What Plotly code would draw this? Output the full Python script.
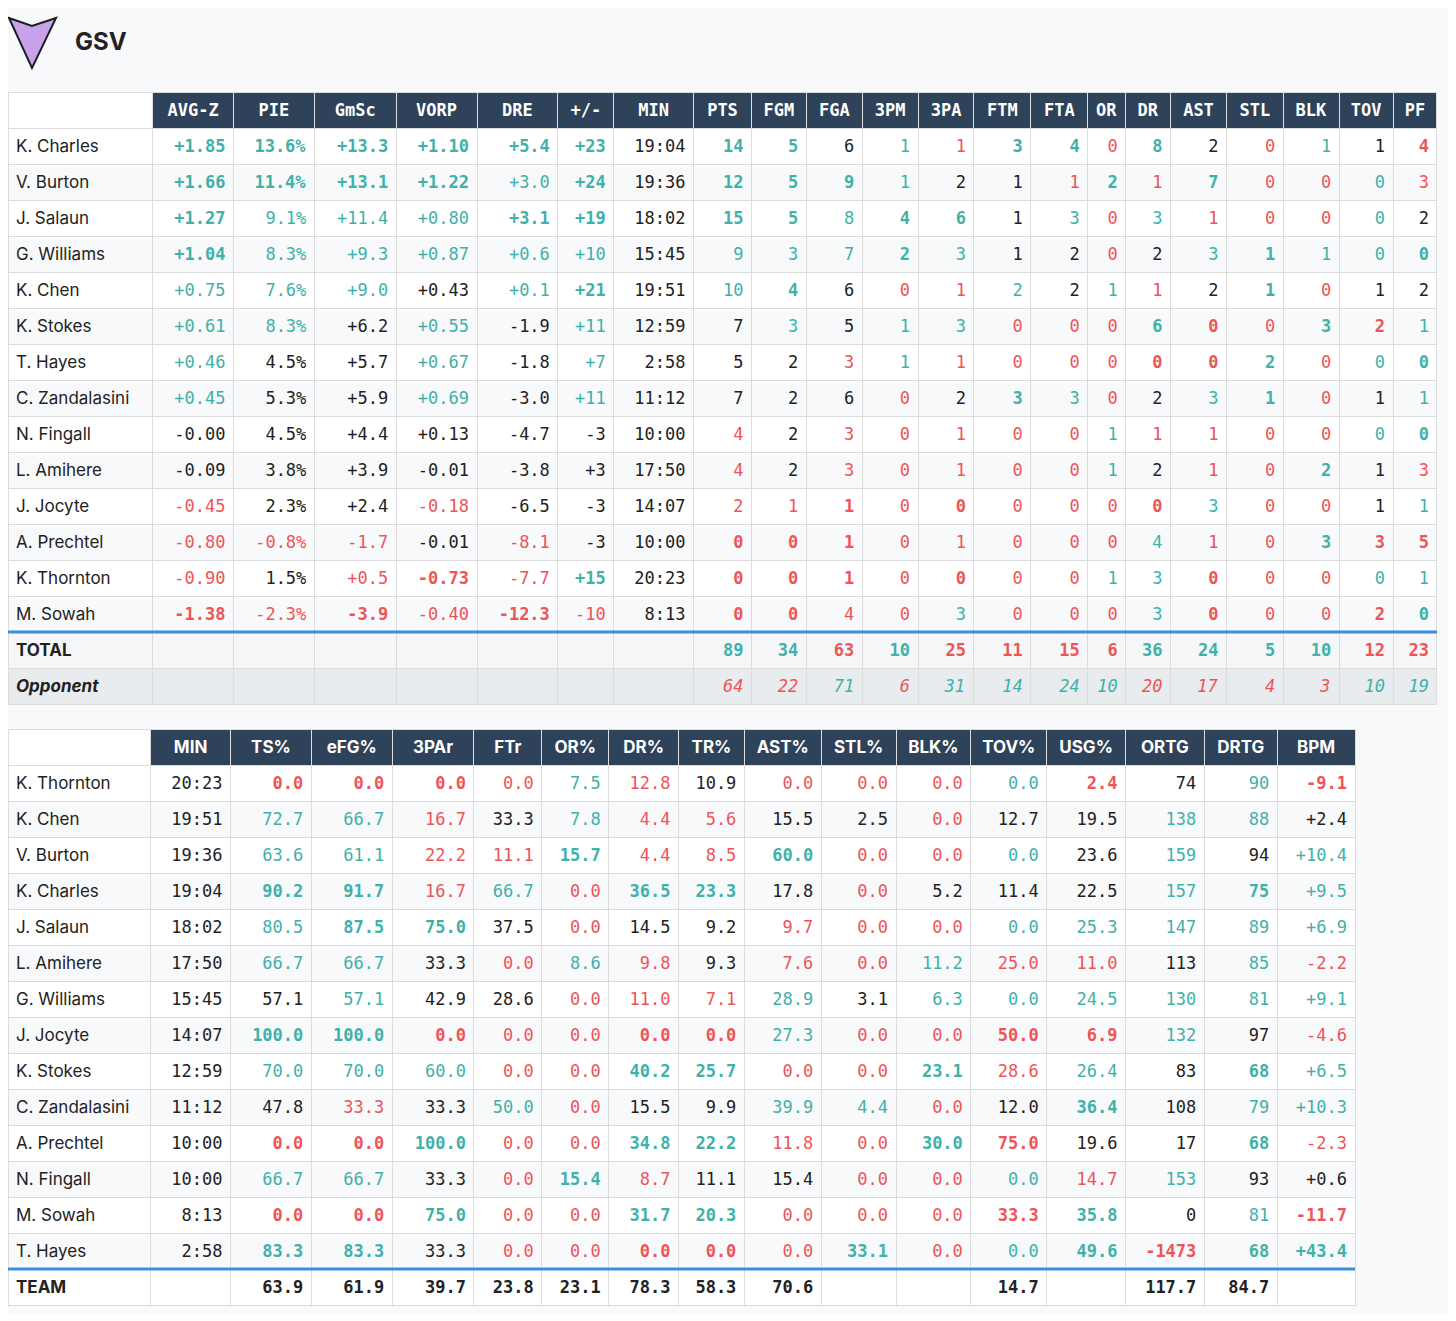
import plotly.graph_objects as go

TEAM_NAME = "GSV"
box_cols = ["AVG-Z","PIE","GmSc","VORP","DRE","+/-","MIN","PTS","FGM","FGA","3PM","3PA","FTM","FTA","OR","DR","AST","STL","BLK","TOV","PF"]
box_players = ["K. Charles","V. Burton","J. Salaun","G. Williams","K. Chen","K. Stokes","T. Hayes","C. Zandalasini","N. Fingall","L. Amihere","J. Jocyte","A. Prechtel","K. Thornton","M. Sowah"]
# value/style  (G bold good, g good, n neutral, r bad, R bold bad)
box_rows = [
 "+1.85/G 13.6%/G +13.3/G +1.10/G +5.4/G +23/G 19:04/n 14/G 5/G 6/n 1/g 1/r 3/G 4/G 0/r 8/G 2/n 0/r 1/g 1/n 4/R",
 "+1.66/G 11.4%/G +13.1/G +1.22/G +3.0/g +24/G 19:36/n 12/G 5/G 9/G 1/g 2/n 1/n 1/r 2/G 1/r 7/G 0/r 0/r 0/g 3/r",
 "+1.27/G 9.1%/g +11.4/g +0.80/g +3.1/G +19/G 18:02/n 15/G 5/G 8/g 4/G 6/G 1/n 3/g 0/r 3/g 1/r 0/r 0/r 0/g 2/n",
 "+1.04/G 8.3%/g +9.3/g +0.87/g +0.6/g +10/g 15:45/n 9/g 3/g 7/g 2/G 3/g 1/n 2/n 0/r 2/n 3/g 1/G 1/g 0/g 0/G",
 "+0.75/g 7.6%/g +9.0/g +0.43/n +0.1/g +21/G 19:51/n 10/g 4/G 6/n 0/r 1/r 2/g 2/n 1/g 1/r 2/n 1/G 0/r 1/n 2/n",
 "+0.61/g 8.3%/g +6.2/n +0.55/g -1.9/n +11/g 12:59/n 7/n 3/g 5/n 1/g 3/g 0/r 0/r 0/r 6/G 0/R 0/r 3/G 2/R 1/g",
 "+0.46/g 4.5%/n +5.7/n +0.67/g -1.8/n +7/g 2:58/n 5/n 2/n 3/r 1/g 1/r 0/r 0/r 0/r 0/R 0/R 2/G 0/r 0/g 0/G",
 "+0.45/g 5.3%/n +5.9/n +0.69/g -3.0/n +11/g 11:12/n 7/n 2/n 6/n 0/r 2/n 3/G 3/g 0/r 2/n 3/g 1/G 0/r 1/n 1/g",
 "-0.00/n 4.5%/n +4.4/n +0.13/n -4.7/n -3/n 10:00/n 4/r 2/n 3/r 0/r 1/r 0/r 0/r 1/g 1/r 1/r 0/r 0/r 0/g 0/G",
 "-0.09/n 3.8%/n +3.9/n -0.01/n -3.8/n +3/n 17:50/n 4/r 2/n 3/r 0/r 1/r 0/r 0/r 1/g 2/n 1/r 0/r 2/G 1/n 3/r",
 "-0.45/r 2.3%/n +2.4/n -0.18/r -6.5/n -3/n 14:07/n 2/r 1/r 1/R 0/r 0/R 0/r 0/r 0/r 0/R 3/g 0/r 0/r 1/n 1/g",
 "-0.80/r -0.8%/r -1.7/r -0.01/n -8.1/r -3/n 10:00/n 0/R 0/R 1/R 0/r 1/r 0/r 0/r 0/r 4/g 1/r 0/r 3/G 3/R 5/R",
 "-0.90/r 1.5%/n +0.5/r -0.73/R -7.7/r +15/G 20:23/n 0/R 0/R 1/R 0/r 0/R 0/r 0/r 1/g 3/g 0/R 0/r 0/r 0/g 1/g",
 "-1.38/R -2.3%/r -3.9/R -0.40/r -12.3/R -10/r 8:13/n 0/R 0/R 4/r 0/r 3/g 0/r 0/r 0/r 3/g 0/R 0/r 0/r 2/R 0/G",
]
box_total = "89/G 34/G 63/R 10/G 25/R 11/R 15/R 6/R 36/G 24/G 5/G 10/G 12/R 23/R"
box_opp = "64/r 22/r 71/g 6/r 31/g 14/g 24/g 10/g 20/r 17/r 4/r 3/r 10/g 19/g"
box_widths = [145,81,81,82,81,81,56,80,58,55,56,56,56,57,57,38,45,56,57,56,54,44]

adv_cols = ["MIN","TS%","eFG%","3PAr","FTr","OR%","DR%","TR%","AST%","STL%","BLK%","TOV%","USG%","ORTG","DRTG","BPM"]
adv_players = ["K. Thornton","K. Chen","V. Burton","K. Charles","J. Salaun","L. Amihere","G. Williams","J. Jocyte","K. Stokes","C. Zandalasini","A. Prechtel","N. Fingall","M. Sowah","T. Hayes"]
adv_rows = [
 "20:23/n 0.0/R 0.0/R 0.0/R 0.0/r 7.5/g 12.8/r 10.9/n 0.0/r 0.0/r 0.0/r 0.0/g 2.4/R 74/n 90/g -9.1/R",
 "19:51/n 72.7/g 66.7/g 16.7/r 33.3/n 7.8/g 4.4/r 5.6/r 15.5/n 2.5/n 0.0/r 12.7/n 19.5/n 138/g 88/g +2.4/n",
 "19:36/n 63.6/g 61.1/g 22.2/r 11.1/r 15.7/G 4.4/r 8.5/r 60.0/G 0.0/r 0.0/r 0.0/g 23.6/n 159/g 94/n +10.4/g",
 "19:04/n 90.2/G 91.7/G 16.7/r 66.7/g 0.0/r 36.5/G 23.3/G 17.8/n 0.0/r 5.2/n 11.4/n 22.5/n 157/g 75/G +9.5/g",
 "18:02/n 80.5/g 87.5/G 75.0/G 37.5/n 0.0/r 14.5/n 9.2/n 9.7/r 0.0/r 0.0/r 0.0/g 25.3/g 147/g 89/g +6.9/g",
 "17:50/n 66.7/g 66.7/g 33.3/n 0.0/r 8.6/g 9.8/r 9.3/n 7.6/r 0.0/r 11.2/g 25.0/r 11.0/r 113/n 85/g -2.2/r",
 "15:45/n 57.1/n 57.1/g 42.9/n 28.6/n 0.0/r 11.0/r 7.1/r 28.9/g 3.1/n 6.3/g 0.0/g 24.5/g 130/g 81/g +9.1/g",
 "14:07/n 100.0/G 100.0/G 0.0/R 0.0/r 0.0/r 0.0/R 0.0/R 27.3/g 0.0/r 0.0/r 50.0/R 6.9/R 132/g 97/n -4.6/r",
 "12:59/n 70.0/g 70.0/g 60.0/g 0.0/r 0.0/r 40.2/G 25.7/G 0.0/r 0.0/r 23.1/G 28.6/r 26.4/g 83/n 68/G +6.5/g",
 "11:12/n 47.8/n 33.3/r 33.3/n 50.0/g 0.0/r 15.5/n 9.9/n 39.9/g 4.4/g 0.0/r 12.0/n 36.4/G 108/n 79/g +10.3/g",
 "10:00/n 0.0/R 0.0/R 100.0/G 0.0/r 0.0/r 34.8/G 22.2/G 11.8/r 0.0/r 30.0/G 75.0/R 19.6/n 17/n 68/G -2.3/r",
 "10:00/n 66.7/g 66.7/g 33.3/n 0.0/r 15.4/G 8.7/r 11.1/n 15.4/n 0.0/r 0.0/r 0.0/g 14.7/r 153/g 93/n +0.6/n",
 "8:13/n 0.0/R 0.0/R 75.0/G 0.0/r 0.0/r 31.7/G 20.3/G 0.0/r 0.0/r 0.0/r 33.3/R 35.8/G 0/n 81/g -11.7/R",
 "2:58/n 83.3/G 83.3/G 33.3/n 0.0/r 0.0/r 0.0/R 0.0/R 0.0/r 33.1/G 0.0/r 0.0/g 49.6/G -1473/R 68/G +43.4/G",
]
adv_team = ["", "63.9","61.9","39.7","23.8","23.1","78.3","58.3","70.6","","","14.7","","117.7","84.7",""]
adv_widths = [143,80,81,81,82,68,67,70,66,77,75,75,76,79,79,73,78]

TEAL = "#3fb1aa"; RED = "#ee5458"; INK = "#222222"; NAVY = "#2e4259"
COL = {"G": TEAL, "g": TEAL, "n": INK, "r": RED, "R": RED}
MONO = "DejaVu Sans Mono"; SANS = "Inter"
OFF = 8          # page body margin
W, H = 1440, 1305
ROW_H = 36
FS = 17

def parse(s):
    return [tuple(tok.rsplit("/", 1)) for tok in s.split()]

def cell(v, st, italic=False):
    if v == "":
        return ""
    t = f"<b>{v}</b>" if st in "GR" else f"<span>{v}</span>"
    if italic:
        t = f"<i>{t}</i>"
    return t

def px(x):
    return min(1.0, max(0.0, (x - OFF) / W))

def py(y):
    return min(1.0, max(0.0, 1 - (y - OFF) / H))

def dom(x0, x1, y0, y1):
    return dict(x=[px(x0), px(x1)], y=[py(y1), py(y0)])

T1_TOP, T2_TOP = 92, 729

# ---- table 1
rows = [parse(r) for r in box_rows]
tot = [("", "n")] * 7 + parse(box_total)
opp = [("", "n")] * 7 + parse(box_opp)
n = len(box_players)
vals = [[f"<span>{p}</span>" for p in box_players] + ["<b>TOTAL</b>", "<b><i>Opponent</i></b>"]]
cols = [[INK] * (n + 2)]
for j in range(len(box_cols)):
    c = [cell(*rows[i][j]) for i in range(n)] + [cell(*tot[j]), cell(*opp[j], italic=True)]
    vals.append(c)
    cols.append([COL[rows[i][j][1]] for i in range(n)] + [COL[tot[j][1]], COL[opp[j][1]]])
rowfill = ["white" if i % 2 == 0 else "#f8f9fb" for i in range(n)] + ["#f6f7f9", "#e9ecef"]
fills = [rowfill] * (len(box_cols) + 1)

fig = go.Figure()
fig.add_trace(go.Table(
    domain=dom(8, 1437, T1_TOP, 718),
    columnwidth=box_widths,
    header=dict(values=[""] + [f"<b>{c}</b>" for c in box_cols],
                fill_color=["white"] + [NAVY] * len(box_cols),
                line_color="#dcdcdc", align="center", height=ROW_H,
                font=dict(family=MONO, size=FS, color="white")),
    cells=dict(values=vals, font=dict(family=[SANS] + [MONO] * len(box_cols), size=FS, color=cols),
               fill_color=fills, line_color="#dcdcdc", height=ROW_H,
               align=["left"] + ["right"] * len(box_cols)),
))

# ---- table 2
arows = [parse(r) for r in adv_rows]
m = len(adv_players)
vals2 = [[f"<span>{p}</span>" for p in adv_players] + ["<b>TEAM</b>"]]
cols2 = [[INK] * (m + 1)]
for j in range(len(adv_cols)):
    vals2.append([cell(*arows[i][j]) for i in range(m)] + [f"<b>{adv_team[j]}</b>" if adv_team[j] else ""])
    cols2.append([COL[arows[i][j][1]] for i in range(m)] + [INK])
rowfill2 = ["white" if i % 2 == 0 else "#f8f9fb" for i in range(m)] + ["white"]
fig.add_trace(go.Table(
    domain=dom(8, 1355, T2_TOP, 1313),
    columnwidth=adv_widths,
    header=dict(values=[""] + [f"<b>{c}</b>" for c in adv_cols],
                fill_color=["white"] + [NAVY] * len(adv_cols),
                line_color="#dcdcdc", align="center", height=ROW_H,
                font=dict(family=SANS, size=FS, color="white")),
    cells=dict(values=vals2, font=dict(family=[SANS] + [MONO] * len(adv_cols), size=FS, color=cols2),
               fill_color=[rowfill2] * (len(adv_cols) + 1), line_color="#dcdcdc", height=ROW_H,
               align=["left"] + ["right"] * len(adv_cols)),
))

y1 = T1_TOP + (n + 1) * ROW_H
y2 = T2_TOP + (m + 1) * ROW_H
shapes = [
    dict(type="line", xref="paper", yref="paper", x0=px(8), x1=px(1437), y0=py(y1), y1=py(y1),
         line=dict(color="#3a8fdc", width=3)),
    dict(type="line", xref="paper", yref="paper", x0=px(8), x1=px(1355), y0=py(y2), y1=py(y2),
         line=dict(color="#3a8fdc", width=3)),
    dict(type="path", xref="paper", yref="paper",
         path=f"M {px(9)} {py(18)} L {px(32)} {py(26)} L {px(56)} {py(18)} L {px(32)} {py(68)} Z",
         fillcolor="#c9a3ea", line=dict(color="#1c1c24", width=2)),
]
fig.update_layout(
    width=W, height=H, margin=dict(l=0, r=0, t=0, b=0),
    paper_bgcolor="#f8f9fb", plot_bgcolor="#f8f9fb", shapes=shapes,
    annotations=[dict(text=f"<b>{TEAM_NAME}</b>", x=px(73), y=py(41), xref="paper", yref="paper",
                      xanchor="left", yanchor="middle", showarrow=False,
                      font=dict(family=SANS, size=24, color="#222"))],
)
fig.write_html("out.html")
